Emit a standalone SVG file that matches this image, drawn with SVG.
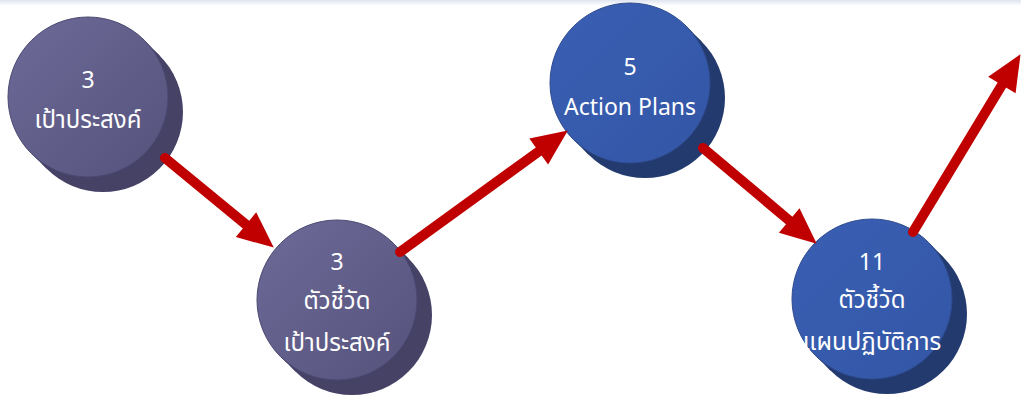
<svg xmlns="http://www.w3.org/2000/svg" width="1021" height="396" viewBox="0 0 1021 396">
<defs>
<linearGradient id="topband" x1="0" y1="0" x2="0" y2="1">
<stop offset="0" stop-color="#dfe4f0"/><stop offset="1" stop-color="#ffffff"/>
</linearGradient>
<linearGradient id="gPurple" x1="0" y1="0" x2="1" y2="1">
<stop offset="0" stop-color="#6d6a98"/><stop offset="1" stop-color="#55527c"/>
</linearGradient>
<linearGradient id="gBlue" x1="0" y1="0" x2="1" y2="1">
<stop offset="0" stop-color="#3a5fb3"/><stop offset="1" stop-color="#3356a6"/>
</linearGradient>
<marker id="head" markerUnits="userSpaceOnUse" markerWidth="40" markerHeight="40" viewBox="0 -20 40 40" refX="0" refY="0" orient="auto" overflow="visible">
<path d="M0,-16 L36,0 L0,16 z" fill="#c00000"/>
</marker>
<style>
.pShade{fill:#454266}
.bShade{fill:#233a6f}
.pFront{fill:url(#gPurple);stroke:#4a4770;stroke-width:1}
.bFront{fill:url(#gBlue);stroke:#2e4a8e;stroke-width:1}
.lbl{font-family:"Noto Sans","Noto Sans Thai",Tahoma,"DejaVu Sans",sans-serif;font-size:23px;fill:#ffffff;text-anchor:middle}
.th{font-size:24px}
.arrow{stroke:#c00000;stroke-width:10;stroke-linecap:round;fill:none;marker-end:url(#head)}
</style>
</defs>
<rect x="0" y="0" width="1021" height="396" fill="#ffffff"/>
<rect x="0" y="0" width="1021" height="6" fill="url(#topband)"/>

<g id="node1" transform="translate(88,97)">
<circle cx="15" cy="15" r="80" class="pShade"/>
<polygon points="56.57,-56.57 71.57,-41.57 -41.57,71.57 -56.57,56.57" class="pShade"/>
<circle cx="0" cy="0" r="80" class="pFront"/>
<text class="lbl" x="0" y="-9">3</text>
<text class="lbl th" x="0" y="31">เป้าประสงค์</text>
</g>

<g id="node2" transform="translate(337,300)">
<circle cx="15" cy="15" r="80" class="pShade"/>
<polygon points="56.57,-56.57 71.57,-41.57 -41.57,71.57 -56.57,56.57" class="pShade"/>
<circle cx="0" cy="0" r="80" class="pFront"/>
<text class="lbl" x="0" y="-30">3</text>
<text class="lbl th" x="0" y="9">ตัวชี้วัด</text>
<text class="lbl th" x="0" y="51">เป้าประสงค์</text>
</g>

<g id="node3" transform="translate(630,83)">
<circle cx="15" cy="15" r="80" class="bShade"/>
<polygon points="56.57,-56.57 71.57,-41.57 -41.57,71.57 -56.57,56.57" class="bShade"/>
<circle cx="0" cy="0" r="80" class="bFront"/>
<text class="lbl" x="0" y="-8">5</text>
<text class="lbl" x="0" y="32">Action Plans</text>
</g>

<g id="node4" transform="translate(872,299)">
<circle cx="15" cy="15" r="80" class="bShade"/>
<polygon points="56.57,-56.57 71.57,-41.57 -41.57,71.57 -56.57,56.57" class="bShade"/>
<circle cx="0" cy="0" r="80" class="bFront"/>
<text class="lbl" x="0" y="-29">11</text>
<text class="lbl th" x="0" y="9">ตัวชี้วัด</text>
<text class="lbl th" x="0" y="51">แผนปฏิบัติการ</text>
</g>

<g id="connectors">
<line class="arrow" x1="165" y1="158" x2="246" y2="224.7"/>
<line class="arrow" x1="400" y1="252" x2="538.7" y2="151.5"/>
<line class="arrow" x1="703" y1="148" x2="789.2" y2="220.5"/>
<line class="arrow" x1="913" y1="232" x2="1001.9" y2="85"/>
</g>
</svg>
